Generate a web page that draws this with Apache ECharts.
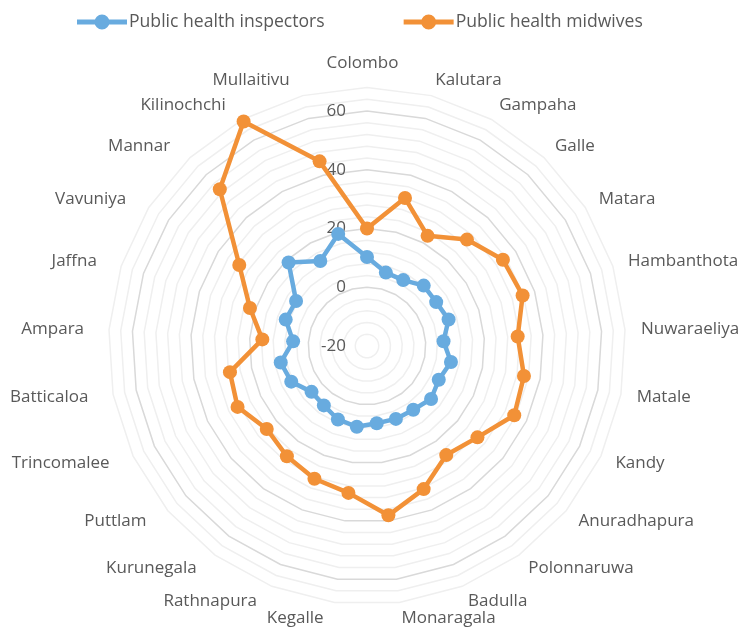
<!DOCTYPE html>
<html><head><meta charset="utf-8">
<script src="https://cdn.jsdelivr.net/npm/echarts@6/dist/echarts.min.js"></script>
<style>html,body{margin:0;padding:0;background:#fff}#c{width:743px;height:629px}</style>
</head><body><div id="c"></div>
<script>
const categories = ['Colombo','Kalutara','Gampaha','Galle','Matara','Hambanthota','Nuwaraeliya','Matale','Kandy','Anuradhapura','Polonnaruwa','Badulla','Monaragala','Kegalle','Rathnapura','Kurunegala','Puttlam','Trincomalee','Batticaloa','Ampara','Jaffna','Vavuniya','Mannar','Kilinochchi','Mullaitivu'];
const inspectors = [10.3, 5.8, 5.6, 8.2, 7.9, 9.2, 6.1, 9.1, 7.0, 8.3, 6.8, 6.7, 6.5, 7.7, 6.9, 5.0, 4.5, 8.5, 9.9, 5.2, 9.1, 8.6, 19.0, 13.0, 19.4];
const midwives = [20.0, 32.0, 22.8, 29.7, 34.8, 35.7, 31.4, 34.4, 35.4, 28.8, 25.9, 32.4, 38.1, 30.4, 28.6, 26.4, 24.3, 28.7, 27.5, 15.7, 21.9, 31.5, 53.2, 67.2, 44.9];
const seriesNames = ['Public health inspectors', 'Public health midwives'];
const axisMin = -20, axisMax = 68, minorStep = 4, majorStep = 20;

// ECharts lays radar indicators counter-clockwise; reorder so categories run clockwise.
const clockwise = arr => [arr[0]].concat(arr.slice(1).reverse());

const ringColors = [];
for (let v = axisMin; v <= axisMax; v += minorStep) {
  ringColors.push(v % majorStep === 0 ? '#d9d9d9' : '#efefef');
}
const font = "'Open Sans', sans-serif";
const txt = '#595959';
const legendIcon = 'path://M0,5H50V10H0Z M17.5,7.5A7.5,7.5 0 1,1 32.5,7.5A7.5,7.5 0 1,1 17.5,7.5Z';
const colors = ['#68abdf', '#f29137'];

const chart = echarts.init(document.getElementById('c'));
chart.setOption({
  animation: false,
  legend: {
    data: seriesNames.map((n, i) => ({ name: n, icon: legendIcon, itemStyle: { color: colors[i] } })),
    top: 8, left: 72,
    itemWidth: 50, itemHeight: 15, itemGap: 79,
    textStyle: { color: txt, fontSize: 17.6, fontFamily: font, padding: [0, 0, 0, -3] }
  },
  radar: {
    center: [367, 346],
    radius: 258.5,
    shape: 'polygon',
    splitNumber: (axisMax - axisMin) / minorStep,
    startAngle: 90,
    nameGap: 16,
    axisName: { color: txt, fontSize: 17, fontFamily: font, padding: [0, 9, 0, 0] },
    axisLine: { show: false },
    axisTick: { show: false },
    splitArea: { show: false },
    splitLine: { lineStyle: { color: ringColors, width: 1.5 } },
    axisLabel: {
      show: false, color: txt, fontSize: 17, fontFamily: font, margin: 21,
      formatter: v => (v % majorStep === 0 && v < axisMax) ? String(v) : ''
    },
    indicator: clockwise(categories).map((name, i) => ({
      name, min: axisMin, max: axisMax,
      axisLabel: { show: i === 0 }
    }))
  },
  series: [{
    type: 'radar',
    symbol: 'circle',
    symbolSize: 14,
    data: [
      { name: seriesNames[0], value: clockwise(inspectors),
        itemStyle: { color: colors[0] }, lineStyle: { color: colors[0], width: 4.5 } },
      { name: seriesNames[1], value: clockwise(midwives),
        itemStyle: { color: colors[1] }, lineStyle: { color: colors[1], width: 4.5 } }
    ]
  }]
});
</script>
</body></html>
